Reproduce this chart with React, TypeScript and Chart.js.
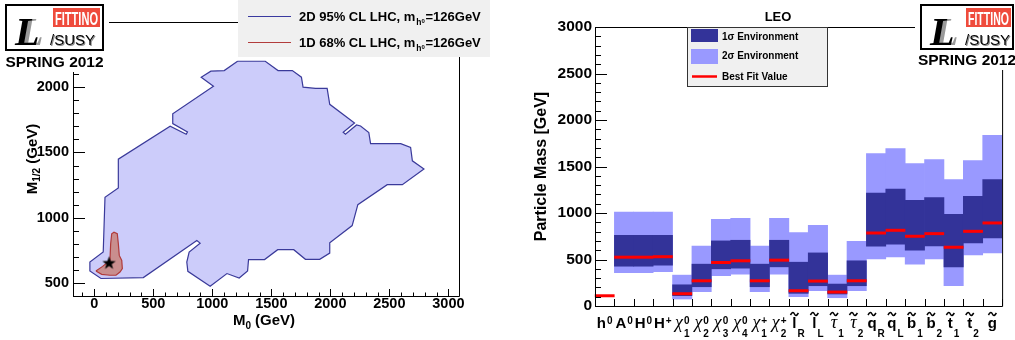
import React, { useEffect, useRef } from 'react';
import { Chart, registerables } from 'chart.js';

Chart.register(...registerables);

const SANS = '"Liberation Sans", Arial, Helvetica, sans-serif';
const SERIF = '"Liberation Serif", "Times New Roman", serif';

// ---------------- Left panel: M0 / M1/2 plane ----------------
const contour95M0 = [1214, 1449, 1557, 1678, 1755, 1769, 1874, 1973, 1995, 2205, 2109, 2128, 2222, 2256, 2326, 2341, 2596, 2680, 2695, 2793, 2610, 2482, 2233, 2185, 1995, 1995, 1910, 1789, 1690, 1554, 1443, 1307, 1299, 1228, 1124, 982, 793, 784, 804, 897, 869, 416, 57, -37, -37, 76, 91, 204, 204, 643, 779, 790, 665, 665, 1010, 906, 988, 1101, 1214];
const contour95M12 = [2199, 2199, 2128, 2128, 2077, 2001, 1991, 1991, 1869, 1726, 1655, 1640, 1711, 1703, 1652, 1568, 1568, 1538, 1436, 1373, 1253, 1253, 1100, 940, 808, 729, 681, 681, 755, 755, 679, 679, 592, 538, 572, 475, 589, 660, 737, 805, 826, 541, 534, 592, 660, 737, 1156, 1228, 1449, 1701, 1640, 1657, 1721, 1797, 2008, 2077, 2123, 2128, 2199];
const contour68M0 = [14, 71, 133, 139, 148, 167, 195, 204, 212, 233, 238, 218, 184, 133, 63, 14];
const contour68M12 = [592, 627, 673, 801, 877, 889, 877, 801, 711, 673, 610, 584, 559, 559, 566, 592];
const bestPointM0 = [125];
const bestPointM12 = [653];
const m0Ticks = [0, 500, 1000, 1500, 2000, 2500, 3000];
const m12Ticks = [500, 1000, 1500, 2000];
const leftLegendLabels = ['2D 95% CL LHC, m', '1D 68% CL LHC, m'];
const leftLegendSuffix = '=126GeV';

// ---------------- Right panel: LEO mass spectrum ----------------
const particles = ['h0', 'A0', 'H0', 'H+', 'chi10', 'chi20', 'chi30', 'chi40', 'chi1+', 'chi2+', 'lR', 'lL', 'tau1', 'tau2', 'qR', 'qL', 'b1', 'b2', 't1', 't2', 'gluino'];
const labelBase = ['h', 'A', 'H', 'H', 'χ', 'χ', 'χ', 'χ', 'χ', 'χ', 'l', 'l', 'τ', 'τ', 'q', 'q', 'b', 'b', 't', 't', 'g'];
const labelSup = ['0', '0', '0', '+', '0', '0', '0', '0', '+', '+', '', '', '', '', '', '', '', '', '', '', ''];
const labelSub = ['', '', '', '', '1', '2', '3', '4', '1', '2', 'R', 'L', '1', '2', 'R', 'L', '1', '2', '1', '2', ''];
const labelTilde = [false, false, false, false, false, false, false, false, false, false, true, true, true, true, true, true, true, true, true, true, true];
const sigma2Low = [null, 358, 358, 368, 75, 154, 325, 343, 154, 343, 100, 164, 89, 164, 507, 528, 450, 507, 218, 550, 571];
const sigma2High = [null, 1010, 1010, 1010, 332, 643, 932, 942, 643, 942, 789, 868, 332, 696, 1639, 1692, 1532, 1574, 1360, 1564, 1835];
const sigma1Low = [null, 428, 428, 439, 111, 207, 400, 407, 207, 421, 136, 218, 129, 218, 643, 664, 600, 646, 421, 678, 732];
const sigma1High = [null, 760, 760, 760, 228, 450, 700, 707, 450, 707, 471, 571, 236, 486, 1214, 1257, 1135, 1167, 985, 1178, 1360];
const bestFitMass = [110, 525, 525, 530, 132, 271, 468, 486, 271, 493, 164, 268, 150, 271, 785, 814, 750, 778, 632, 803, 893];
const massTicks = [0, 500, 1000, 1500, 2000, 2500, 3000];

function makeStar(): HTMLCanvasElement {
  const c = document.createElement('canvas');
  c.width = 15; c.height = 15;
  const g = c.getContext('2d')!;
  g.fillStyle = '#000';
  g.beginPath();
  for (let k = 0; k < 10; k++) {
    const r = k % 2 === 0 ? 7 : 2.8;
    const a = -Math.PI / 2 + (k * Math.PI) / 5;
    const px = 7.5 + r * Math.cos(a);
    const py = 7.8 + r * Math.sin(a);
    if (k === 0) g.moveTo(px, py); else g.lineTo(px, py);
  }
  g.closePath();
  g.fill();
  return c;
}

function drawLogo(ctx: CanvasRenderingContext2D, x: number, y: number, w: number, h: number, springBase: number) {
  ctx.save();
  ctx.fillStyle = '#fff';
  ctx.fillRect(x - 5, 0, w + 10, springBase + 5);
  ctx.lineWidth = 2;
  ctx.strokeStyle = '#000';
  ctx.strokeRect(x + 1, y + 1, w - 2, h - 2);
  const rx = x + Math.round(w * 0.485), ry = y + 4, rw = Math.round(w * 0.475), rh = 19;
  ctx.fillStyle = '#ef4b3c';
  ctx.fillRect(rx, ry, rw, rh);
  ctx.fillStyle = '#fff';
  ctx.font = `bold 19px "Liberation Sans Narrow", ${SANS}`;
  ctx.textAlign = 'left';
  ctx.textBaseline = 'alphabetic';
  const tw = ctx.measureText('FITTINO').width;
  ctx.save();
  ctx.translate(rx + 2, ry + rh - 2.5);
  ctx.scale((rw - 4) / tw, 1);
  ctx.fillText('FITTINO', 0, 0);
  ctx.restore();
  ctx.font = `italic bold 40px ${SERIF}`;
  ctx.fillStyle = '#9a9a9a';
  ctx.fillText('L', x + 14, y + 41);
  ctx.fillStyle = '#000';
  ctx.fillText('L', x + 10, y + 41);
  ctx.font = `15px ${SANS}`;
  ctx.fillStyle = '#8a8a8a';
  ctx.fillText('/SUSY', x + 46, y + 42);
  ctx.fillStyle = '#000';
  ctx.fillText('/SUSY', x + 45, y + 41);
  ctx.font = `bold 15.5px ${SANS}`;
  ctx.textAlign = 'center';
  ctx.fillText('SPRING 2012', x + w / 2, springBase);
  ctx.restore();
}

function drawTilde(ctx: CanvasRenderingContext2D, cx: number, y: number, w: number) {
  ctx.beginPath();
  ctx.moveTo(cx - w / 2, y + 1);
  ctx.bezierCurveTo(cx - w / 4, y - 2.2, cx - w / 8, y - 2.2, cx, y);
  ctx.bezierCurveTo(cx + w / 8, y + 2.2, cx + w / 4, y + 2.2, cx + w / 2, y - 1);
  ctx.stroke();
}

const leftDecor = {
  id: 'leftDecor',
  afterDraw(chart: any) {
    const ctx: CanvasRenderingContext2D = chart.ctx;
    const { left, right, top, bottom } = chart.chartArea;
    const xs = chart.scales.x, ys = chart.scales.y;
    ctx.save();
    ctx.strokeStyle = '#000';
    ctx.lineWidth = 1;
    ctx.beginPath();
    ctx.rect(left + 0.5, top + 0.5, right - left, bottom - top);
    ctx.stroke();
    ctx.beginPath();
    for (let v = -100; v <= 3000; v += 100) {
      if (v < xs.min || v > xs.max) continue;
      const px = Math.round(xs.getPixelForValue(v)) + 0.5;
      const len = v % 500 === 0 ? 7 : 3.5;
      ctx.moveTo(px, bottom);
      ctx.lineTo(px, bottom - len);
    }
    for (let v = 400; v <= 2500; v += 100) {
      const py = Math.round(ys.getPixelForValue(v)) + 0.5;
      const len = v % 500 === 0 ? 12 : 6;
      ctx.moveTo(left, py);
      ctx.lineTo(left + len, py);
    }
    ctx.stroke();
    ctx.fillStyle = '#000';
    ctx.font = `bold 14.5px ${SANS}`;
    ctx.textAlign = 'center';
    ctx.textBaseline = 'middle';
    m0Ticks.forEach((v) => ctx.fillText(String(v), xs.getPixelForValue(v), 304));
    ctx.textAlign = 'right';
    m12Ticks.forEach((v) => ctx.fillText(String(v), 69, ys.getPixelForValue(v)));
    // x title
    ctx.textBaseline = 'alphabetic';
    ctx.textAlign = 'left';
    ctx.font = `bold 15px ${SANS}`;
    const wM = ctx.measureText('M').width;
    const wRest = ctx.measureText(' (GeV)').width;
    ctx.font = `bold 10px ${SANS}`;
    const w0 = ctx.measureText('0').width;
    let sx = 264 - (wM + w0 + wRest) / 2;
    ctx.font = `bold 15px ${SANS}`;
    ctx.fillText('M', sx, 325);
    ctx.font = `bold 10px ${SANS}`;
    ctx.fillText('0', sx + wM, 329);
    ctx.font = `bold 15px ${SANS}`;
    ctx.fillText(' (GeV)', sx + wM + w0, 325);
    // y title
    ctx.save();
    ctx.translate(37, (top + bottom) / 2);
    ctx.rotate(-Math.PI / 2);
    ctx.font = `bold 10px ${SANS}`;
    const wHalf = ctx.measureText('1/2').width;
    const total = wM + wHalf + wRest;
    sx = -total / 2;
    ctx.font = `bold 15px ${SANS}`;
    ctx.fillText('M', sx, 0);
    ctx.font = `bold 10px ${SANS}`;
    ctx.fillText('1/2', sx + wM, 3);
    ctx.font = `bold 15px ${SANS}`;
    ctx.fillText(' (GeV)', sx + wM + wHalf, 0);
    ctx.restore();
    // legend
    ctx.fillStyle = '#f0f0f0';
    ctx.fillRect(238, 0, 252, 57);
    const legColors = ['#3a3aa0', '#b23c3c'];
    const legY = [16, 42];
    leftLegendLabels.forEach((lab, i) => {
      ctx.strokeStyle = legColors[i];
      ctx.lineWidth = 1.2;
      ctx.beginPath();
      ctx.moveTo(248, legY[i] + 0.5);
      ctx.lineTo(291, legY[i] + 0.5);
      ctx.stroke();
      ctx.fillStyle = '#000';
      const by = legY[i] + 5;
      ctx.font = `bold 13px ${SANS}`;
      ctx.fillText(lab, 299, by);
      const lw = ctx.measureText(lab).width;
      ctx.font = `bold 8.5px ${SANS}`;
      ctx.fillText('h', 299 + lw + 1, by + 3.5);
      const hw = ctx.measureText('h').width;
      ctx.font = `bold 6px ${SANS}`;
      ctx.fillText('0', 299 + lw + 1 + hw, by + 1.5);
      ctx.font = `bold 13px ${SANS}`;
      ctx.fillText(leftLegendSuffix, 299 + lw + hw + 5, by);
    });
    drawLogo(ctx, 5, 4, 99, 47, 67);
    ctx.restore();
  },
};

const rightDecor = {
  id: 'rightDecor',
  afterDraw(chart: any) {
    const ctx: CanvasRenderingContext2D = chart.ctx;
    const { left, right, top, bottom } = chart.chartArea;
    const xs = chart.scales.x, ys = chart.scales.y;
    const n = particles.length;
    ctx.save();
    ctx.strokeStyle = '#000';
    ctx.lineWidth = 1;
    ctx.beginPath();
    ctx.rect(left + 0.5, top + 0.5, right - left, bottom - top);
    ctx.stroke();
    ctx.beginPath();
    for (let v = 0; v <= 3000; v += 100) {
      const py = Math.round(ys.getPixelForValue(v)) + 0.5;
      const len = v % 500 === 0 ? 12 : 6;
      ctx.moveTo(left, py);
      ctx.lineTo(left + len, py);
    }
    for (let i = 0; i <= n; i++) {
      let px: number;
      if (i === 0) px = left;
      else if (i === n) px = right;
      else px = (xs.getPixelForValue(i - 1) + xs.getPixelForValue(i)) / 2;
      px = Math.round(px) + 0.5;
      ctx.moveTo(px, bottom);
      ctx.lineTo(px, bottom - 7);
    }
    ctx.stroke();
    ctx.fillStyle = '#000';
    ctx.font = `bold 15.5px ${SANS}`;
    ctx.textAlign = 'right';
    ctx.textBaseline = 'middle';
    massTicks.forEach((v) => ctx.fillText(String(v), 85, ys.getPixelForValue(v)));
    // y title
    ctx.save();
    ctx.translate(35, (top + bottom) / 2);
    ctx.rotate(-Math.PI / 2);
    ctx.textAlign = 'center';
    ctx.font = `bold 16px ${SANS}`;
    ctx.fillText('Particle Mass [GeV]', 0, 0);
    ctx.restore();
    // title
    ctx.textAlign = 'center';
    ctx.font = `bold 13px ${SANS}`;
    ctx.fillText('LEO', 271, 17);
    // particle labels
    ctx.textAlign = 'left';
    ctx.textBaseline = 'alphabetic';
    ctx.lineWidth = 1.5;
    for (let i = 0; i < n; i++) {
      const cx = xs.getPixelForValue(i);
      const greek = labelBase[i] === 'χ' || labelBase[i] === 'τ';
      const baseFont = greek ? `italic 18px ${SERIF}` : `bold 15px ${SANS}`;
      ctx.font = baseFont;
      const bw = ctx.measureText(labelBase[i]).width;
      ctx.font = `bold 10px ${SANS}`;
      const supW = labelSup[i] ? ctx.measureText(labelSup[i]).width : 0;
      const subW = labelSub[i] ? ctx.measureText(labelSub[i]).width : 0;
      const extra = Math.max(supW, subW);
      const total = bw + (extra ? extra + 1 : 0);
      const x0 = cx - total / 2;
      const by = 328;
      ctx.font = baseFont;
      ctx.fillText(labelBase[i], x0, by);
      ctx.font = `bold 10px ${SANS}`;
      if (labelSup[i]) ctx.fillText(labelSup[i], x0 + bw + 1, by - 4);
      if (labelSub[i]) ctx.fillText(labelSub[i], x0 + bw + 1, by + 9);
      if (labelTilde[i]) drawTilde(ctx, x0 + bw / 2, 314, 8);
    }
    // legend
    ctx.fillStyle = '#f0f0f0';
    ctx.fillRect(180, 27, 141, 60);
    ctx.strokeStyle = '#333';
    ctx.lineWidth = 1;
    ctx.strokeRect(180.5, 27.5, 140, 59);
    ctx.fillStyle = '#333399';
    ctx.fillRect(184, 29, 27, 13);
    ctx.fillStyle = '#9999ff';
    ctx.fillRect(184, 49, 27, 15);
    ctx.strokeStyle = '#ff0000';
    ctx.lineWidth = 2.5;
    ctx.beginPath();
    ctx.moveTo(185, 76.5);
    ctx.lineTo(210, 76.5);
    ctx.stroke();
    ctx.fillStyle = '#000';
    ctx.font = `bold 10px ${SANS}`;
    ctx.textBaseline = 'middle';
    ctx.fillText('1σ Environment', 215, 37.5);
    ctx.fillText('2σ Environment', 215, 56.5);
    ctx.fillText('Best Fit Value', 215, 77);
    drawLogo(ctx, 413, 4, 94, 46, 65);
    ctx.restore();
  },
};

export default function App() {
  const leftRef = useRef<HTMLCanvasElement>(null);
  const rightRef = useRef<HTMLCanvasElement>(null);

  useEffect(() => {
    const star = makeStar();
    const toPts = (xs: number[], ys: number[]) => xs.map((x, i) => ({ x, y: ys[i] }));
    const left = new Chart(leftRef.current!, {
      type: 'line',
      data: {
        datasets: [
          {
            label: 'Best fit',
            data: toPts(bestPointM0, bestPointM12),
            showLine: false,
            pointStyle: star as any,
            pointRadius: 7,
            order: 0,
          },
          {
            label: '1D 68% CL LHC',
            data: toPts(contour68M0, contour68M12),
            borderColor: '#b03a3a',
            backgroundColor: '#c98e8e',
            borderWidth: 1.2,
            pointRadius: 0,
            fill: 'shape',
            tension: 0,
            order: 1,
          },
          {
            label: '2D 95% CL LHC',
            data: toPts(contour95M0, contour95M12),
            borderColor: '#3a3a9a',
            backgroundColor: '#ccccfa',
            borderWidth: 1.2,
            pointRadius: 0,
            fill: 'shape',
            tension: 0,
            order: 2,
          },
        ] as any,
      },
      options: {
        animation: false,
        responsive: false,
        devicePixelRatio: 1,
        indexAxis: 'y',
        events: [],
        layout: { padding: { left: 73, right: 48, top: 22, bottom: 44 } },
        scales: {
          x: { type: 'linear', min: -180, max: 3090, display: false },
          y: { type: 'linear', min: 400, max: 2500, display: false },
        },
        plugins: { legend: { display: false }, tooltip: { enabled: false } },
      } as any,
      plugins: [leftDecor],
    });

    const right = new Chart(rightRef.current!, {
      type: 'bar',
      data: {
        labels: particles,
        datasets: [
          {
            type: 'line',
            label: 'Best Fit Value',
            data: bestFitMass,
            showLine: false,
            pointStyle: 'line',
            pointRadius: 9.9,
            pointBorderWidth: 3,
            pointBorderColor: '#ff0000',
            pointBackgroundColor: '#ff0000',
            order: 0,
          },
          {
            label: '1σ Environment',
            data: particles.map((_, i) => (sigma1Low[i] == null ? null : [sigma1Low[i], sigma1High[i]])),
            backgroundColor: '#333399',
            borderWidth: 0,
            grouped: false,
            barPercentage: 1,
            categoryPercentage: 1,
            order: 1,
          },
          {
            label: '2σ Environment',
            data: particles.map((_, i) => (sigma2Low[i] == null ? null : [sigma2Low[i], sigma2High[i]])),
            backgroundColor: '#9999ff',
            borderWidth: 0,
            grouped: false,
            barPercentage: 1,
            categoryPercentage: 1,
            order: 2,
          },
        ] as any,
      },
      options: {
        animation: false,
        responsive: false,
        devicePixelRatio: 1,
        events: [],
        layout: { padding: { left: 88, right: 9, top: 27, bottom: 34 } },
        scales: {
          x: { type: 'category', offset: true, display: false },
          y: { type: 'linear', min: 0, max: 3000, display: false },
        },
        plugins: { legend: { display: false }, tooltip: { enabled: false } },
      } as any,
      plugins: [rightDecor],
    });

    return () => {
      left.destroy();
      right.destroy();
    };
  }, []);

  return (
    <div style={{ position: 'fixed', left: 0, top: 0, width: 1015, height: 340, background: '#fff' }}>
      <canvas ref={leftRef} width={507} height={340} style={{ position: 'absolute', left: 0, top: 0 }} />
      <canvas ref={rightRef} width={508} height={340} style={{ position: 'absolute', left: 507, top: 0 }} />
    </div>
  );
}
